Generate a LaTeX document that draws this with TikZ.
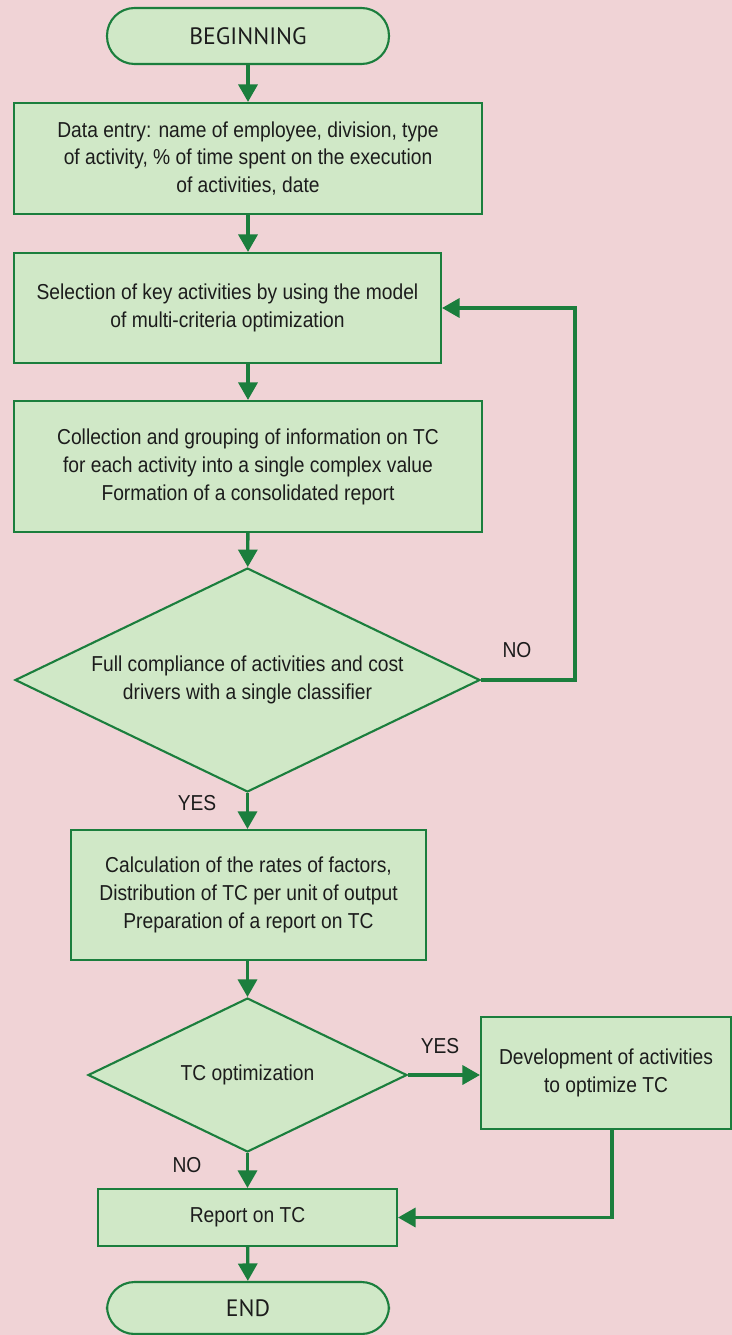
\documentclass[tikz,border=0pt]{standalone}
\usepackage{fontspec}
\setmainfont{Liberation Sans}[FakeStretch=0.89]
\newfontfamily\termfont{PT Sans}
\usetikzlibrary{shapes.geometric,arrows.meta}
\definecolor{bgpink}{HTML}{F0D3D6}
\definecolor{boxgreen}{HTML}{D0E8C7}
\definecolor{linegreen}{HTML}{1B7E3D}
\definecolor{txtgray}{HTML}{1C1C1C}
\tikzset{
  terminal/.style={draw=linegreen,fill=boxgreen,line width=1.2pt,rounded corners=0.55cm,
    minimum width=5.64cm,minimum height=1.12cm,text=txtgray,
    font=\termfont\fontsize{13.5}{16}\selectfont},
  process/.style={draw=linegreen,fill=boxgreen,line width=1.2pt,align=center,text=txtgray,
    font=\fontsize{12.3}{15.9}\selectfont},
  decision/.style={diamond,draw=linegreen,fill=boxgreen,line width=1.2pt,inner sep=0pt},
  plain/.style={align=center,text=txtgray,font=\fontsize{12.3}{15.9}\selectfont},
  flow/.style={draw=linegreen,line width=1.9pt,-{Triangle[length=0.35cm,width=0.38cm]}}
}
\begin{document}
\begin{tikzpicture}[x=0.02cm,y=-0.02cm]
\fill[bgpink] (0,0) rectangle (732,1335);
\useasboundingbox (0,0) rectangle (732,1335);
%.............................
\node[terminal] (start) at (248,36) {BEGINNING};
\node[process,minimum width=9.36cm,minimum height=2.22cm] (entry) at (248,158.5)
  {Data entry: name of employee, division, type\\of activity, \% of time spent on the execution\\of activities, date};
\node[process,minimum width=8.54cm,minimum height=2.2cm] (select) at (227.5,308)
  {Selection of key activities by using the model\\of multi-criteria optimization};
\node[process,minimum width=9.36cm,minimum height=2.62cm] (collect) at (248,466.5)
  {Collection and grouping of information on TC\\for each activity into a single complex value\\Formation of a consolidated report};
%.............................
\node[decision,minimum width=9.3cm,minimum height=4.48cm] (comply) at (247.5,680) {};
\node[plain] at (comply) {Full compliance of activities and cost\\drivers with a single classifier};
\node[plain] at (517,650) {NO};
\node[plain] at (197,803) {YES};
%.............................
\node[process,minimum width=7.1cm,minimum height=2.6cm] (calc) at (248.5,895)
  {Calculation of the rates of factors,\\Distribution of TC per unit of output\\Preparation of a report on TC};
\node[decision,minimum width=6.38cm,minimum height=3.08cm] (optim) at (247.5,1075) {};
\node[plain] at (optim) {TC optimization};
\node[plain] at (440,1046) {YES};
\node[plain] at (187,1165) {NO};
\node[process,minimum width=5cm,minimum height=2.24cm] (develop) at (606,1073)
  {Development of activities\\to optimize TC};
\node[process,minimum width=5.98cm,minimum height=1.14cm] (report) at (247.5,1217.5) {Report on TC};
\node[terminal,minimum height=1.04cm] (finish) at (248,1308) {END};
%.............................
\draw[flow] (start) -- (entry);
\draw[flow] (entry) -- (select.north -| entry.south);
\draw[flow] (select.south -| entry.south) -- (collect);
\draw[flow] (collect) -- (comply);
\draw[flow] (comply.east) -- ++(94,0) |- (select.east);
\draw[flow] (comply) -- (calc.north -| comply.south);
\draw[flow] (calc.south -| optim.north) -- (optim);
\draw[flow] (optim.east) -- (develop.west |- optim.east);
\draw[flow] (optim) -- (report);
\draw[flow] (develop.south) ++(6,0) |- (report.east);
\draw[flow] (report) -- (finish);
\end{tikzpicture}
\end{document}
